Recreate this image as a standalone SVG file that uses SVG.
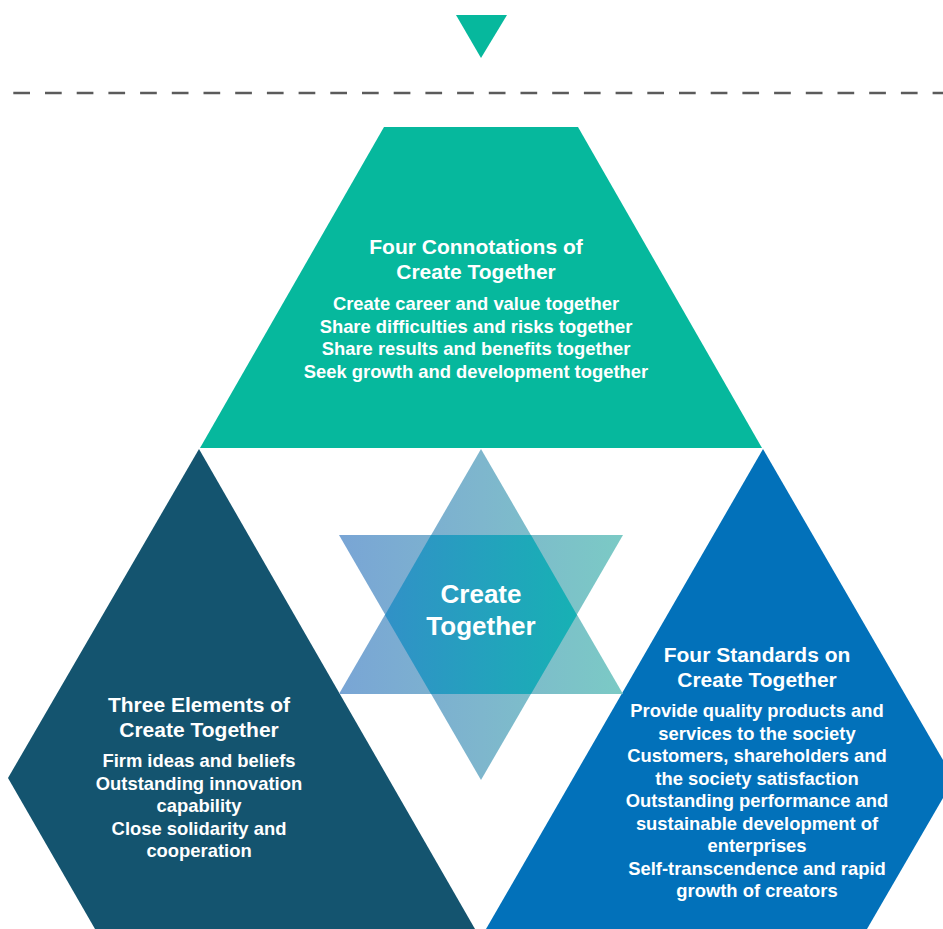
<svg xmlns="http://www.w3.org/2000/svg" width="943" height="929" viewBox="0 0 943 929">
  <defs>
    <linearGradient id="starLight" gradientUnits="userSpaceOnUse" x1="339" y1="0" x2="623" y2="0">
      <stop offset="0" stop-color="#79A5D5"/>
      <stop offset="0.5" stop-color="#7EB6CD"/>
      <stop offset="1" stop-color="#7BCAC5"/>
    </linearGradient>
    <linearGradient id="starDark" gradientUnits="userSpaceOnUse" x1="385" y1="0" x2="577" y2="0">
      <stop offset="0" stop-color="#3191C7"/>
      <stop offset="1" stop-color="#17B1B4"/>
    </linearGradient>
    <style>
      .t { font-family: "Liberation Sans", Arial, Helvetica, sans-serif; font-weight: bold; fill: #FFFFFF; text-anchor: middle; }
      .title { font-size: 21px; }
      .body { font-size: 18.4px; }
      .center { font-size: 26px; }
    </style>
  </defs>
  <rect width="943" height="929" fill="#FFFFFF"/>

  <g id="marker">
    <polygon points="456,15 507,15 481,58" fill="#06B89D"/>
  </g>

  <g id="divider">
    <line x1="13.3" y1="93" x2="943" y2="93" stroke="#5B5B5B" stroke-width="2.6" stroke-dasharray="16.7 15"/>
  </g>

  <g id="connotations">
    <polygon points="384,127 578,127 762,448 200,448" fill="#06B89D"/>
    <text class="t title" x="476" y="254">Four Connotations of</text>
    <text class="t title" x="476" y="279">Create Together</text>
    <text class="t body" x="476" y="310">Create career and value together</text>
    <text class="t body" x="476" y="332.5">Share difficulties and risks together</text>
    <text class="t body" x="476" y="355">Share results and benefits together</text>
    <text class="t body" x="476" y="377.5">Seek growth and development together</text>
  </g>

  <g id="elements">
    <polygon points="199,449 8,778 95,929 475,929" fill="#14546F"/>
    <text class="t title" x="199" y="712">Three Elements of</text>
    <text class="t title" x="199" y="737">Create Together</text>
    <text class="t body" x="199" y="767">Firm ideas and beliefs</text>
    <text class="t body" x="199" y="789.5">Outstanding innovation</text>
    <text class="t body" x="199" y="812">capability</text>
    <text class="t body" x="199" y="834.5">Close solidarity and</text>
    <text class="t body" x="199" y="857">cooperation</text>
  </g>

  <g id="standards">
    <polygon points="763,449 954,779 867,929 486,929" fill="#0271BA"/>
    <text class="t title" x="757" y="662">Four Standards on</text>
    <text class="t title" x="757" y="687">Create Together</text>
    <text class="t body" x="757" y="717">Provide quality products and</text>
    <text class="t body" x="757" y="739.5">services to the society</text>
    <text class="t body" x="757" y="762">Customers, shareholders and</text>
    <text class="t body" x="757" y="784.5">the society satisfaction</text>
    <text class="t body" x="757" y="807">Outstanding performance and</text>
    <text class="t body" x="757" y="829.5">sustainable development of</text>
    <text class="t body" x="757" y="852">enterprises</text>
    <text class="t body" x="757" y="874.5">Self-transcendence and rapid</text>
    <text class="t body" x="757" y="897">growth of creators</text>
  </g>

  <g id="center">
    <polygon points="481,449 623,694 339,694" fill="url(#starLight)"/>
    <polygon points="339,535 623,535 481,780" fill="url(#starLight)"/>
    <polygon points="431,535 531,535 577,615 531,694 431,694 385,615" fill="url(#starDark)"/>
    <text class="t center" x="481" y="603">Create</text>
    <text class="t center" x="481" y="635">Together</text>
  </g>
</svg>
